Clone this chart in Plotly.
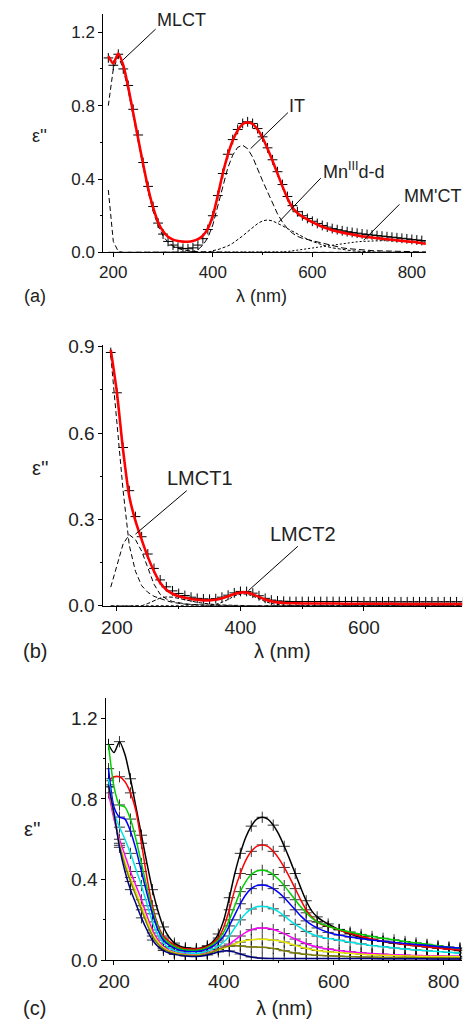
import plotly.graph_objects as go

# ---------------- data ----------------
W_A = list(range(190, 831, 10))   # wavelength grid, panels (a) and (c)
W_B = list(range(190, 761, 10))   # wavelength grid, panel (b)

# panel (a)
A_FIT = [1.07, 1.03, 1.084, 1.02, 0.90, 0.76, 0.62, 0.48, 0.35, 0.245,
         0.165, 0.115, 0.085, 0.07, 0.062, 0.059, 0.058, 0.062, 0.072, 0.092,
         0.13, 0.20, 0.31, 0.43, 0.53, 0.61, 0.665, 0.70, 0.709, 0.70,
         0.67, 0.625, 0.565, 0.50, 0.43, 0.36, 0.295, 0.245, 0.215, 0.195,
         0.18, 0.165, 0.152, 0.14, 0.13, 0.121, 0.114, 0.108, 0.103, 0.098,
         0.093, 0.088, 0.085, 0.081, 0.078, 0.075, 0.072, 0.069, 0.066, 0.063,
         0.06, 0.058, 0.055, 0.05, 0.047]
A_DATA = [1.06, 1.02, 1.08, 1.0, 0.91, 0.78, 0.64, 0.49, 0.36, 0.25,
          0.16, 0.10, 0.06, 0.04, 0.028, 0.022, 0.02, 0.025, 0.04, 0.075,
          0.125, 0.20, 0.31, 0.43, 0.535, 0.615, 0.67, 0.703, 0.712, 0.703,
          0.675, 0.63, 0.57, 0.505, 0.44, 0.37, 0.305, 0.255, 0.222, 0.20,
          0.185, 0.17, 0.158, 0.147, 0.138, 0.13, 0.124, 0.118, 0.113, 0.109,
          0.105, 0.101, 0.098, 0.095, 0.092, 0.089, 0.086, 0.083, 0.08, 0.077,
          0.074, 0.071, 0.068, 0.065, 0.062]
A_UV = [0.34, 0.06, 0.005, 0, 0, 0, 0, 0, 0, 0,
        0, 0, 0, 0, 0, 0, 0, 0, 0, 0,
        0, 0, 0, 0, 0, 0, 0, 0, 0, 0,
        0, 0, 0, 0, 0, 0, 0, 0, 0, 0,
        0, 0, 0, 0, 0, 0, 0, 0, 0, 0,
        0, 0, 0, 0, 0, 0, 0, 0, 0, 0,
        0, 0, 0, 0, 0]
A_MLCT = [0.80, 1.0, 1.07, 1.0, 0.88, 0.74, 0.60, 0.46, 0.33, 0.225,
          0.145, 0.09, 0.055, 0.035, 0.022, 0.014, 0.009, 0.006, 0.004, 0.003,
          0.002, 0.002, 0.001, 0.001, 0.001, 0.001, 0.001, 0.001, 0.001, 0.001,
          0.001, 0.001, 0, 0, 0, 0, 0, 0, 0, 0,
          0, 0, 0, 0, 0, 0, 0, 0, 0, 0,
          0, 0, 0, 0, 0, 0, 0, 0, 0, 0,
          0, 0, 0, 0, 0]
A_IT = [0, 0, 0, 0, 0, 0, 0, 0, 0, 0,
        0, 0, 0, 0, 0, 0, 0.002, 0.005, 0.015, 0.04,
        0.08, 0.15, 0.25, 0.36, 0.46, 0.53, 0.573, 0.584, 0.565, 0.52,
        0.45, 0.39, 0.33, 0.27, 0.21, 0.165, 0.13, 0.105, 0.088, 0.077,
        0.07, 0.065, 0.057, 0.05, 0.042, 0.035, 0.03, 0.025, 0.021, 0.018,
        0.015, 0.013, 0.011, 0.01, 0.009, 0.008, 0.007, 0.006, 0.006, 0.005,
        0.005, 0.004, 0.004, 0.003, 0.003]
A_DD = [0, 0, 0, 0, 0, 0, 0, 0, 0, 0,
        0, 0, 0, 0, 0, 0, 0, 0, 0, 0,
        0, 0.01, 0.015, 0.025, 0.035, 0.05, 0.068, 0.09, 0.113, 0.135,
        0.157, 0.172, 0.177, 0.172, 0.16, 0.145, 0.13, 0.115, 0.10, 0.085,
        0.072, 0.06, 0.05, 0.04, 0.032, 0.025, 0.02, 0.015, 0.012, 0.009,
        0.007, 0.005, 0.004, 0.003, 0.002, 0.002, 0.001, 0.001, 0.001, 0,
        0, 0, 0, 0, 0]
A_MMCT = [0, 0, 0, 0, 0, 0, 0, 0, 0, 0,
          0, 0, 0, 0, 0, 0, 0, 0, 0, 0,
          0, 0, 0, 0, 0, 0, 0, 0, 0, 0,
          0, 0, 0, 0, 0, 0.003, 0.005, 0.008, 0.011, 0.015,
          0.019, 0.024, 0.028, 0.032, 0.036, 0.04, 0.044, 0.048, 0.052, 0.055,
          0.058, 0.06, 0.062, 0.063, 0.064, 0.064, 0.064, 0.064, 0.063, 0.062,
          0.061, 0.06, 0.058, 0.057, 0.055]

# panel (b)
B_FIT = [0.889, 0.74, 0.54, 0.38, 0.295, 0.23, 0.17, 0.12, 0.08, 0.056,
         0.042, 0.033, 0.028, 0.024, 0.021, 0.019, 0.019, 0.021, 0.026, 0.033,
         0.041, 0.046, 0.046, 0.040, 0.031, 0.022, 0.016, 0.012, 0.010, 0.009,
         0.009, 0.008, 0.008, 0.008, 0.008, 0.008, 0.008, 0.008, 0.007, 0.007,
         0.007, 0.007, 0.007, 0.007, 0.007, 0.007, 0.007, 0.006, 0.006, 0.006,
         0.006, 0.006, 0.006, 0.006, 0.006, 0.006, 0.006, 0.006]
B_DATA = [0.88, 0.74, 0.55, 0.40, 0.31, 0.24, 0.18, 0.13, 0.09, 0.066,
          0.052, 0.043, 0.036, 0.03, 0.026, 0.024, 0.023, 0.025, 0.03, 0.037,
          0.045, 0.05, 0.05, 0.044, 0.035, 0.026, 0.02, 0.017, 0.016, 0.015,
          0.015, 0.015, 0.015, 0.015, 0.015, 0.015, 0.015, 0.015, 0.015, 0.015,
          0.015, 0.014, 0.014, 0.014, 0.014, 0.014, 0.014, 0.014, 0.014, 0.014,
          0.014, 0.014, 0.014, 0.014, 0.014, 0.014, 0.014, 0.014]
B_UV = [0.87, 0.63, 0.40, 0.21, 0.12, 0.07, 0.047, 0.033, 0.025, 0.018,
        0.012, 0.008, 0.006, 0.004, 0.003, 0.002, 0.002, 0.001, 0.001, 0.001,
        0, 0, 0, 0, 0, 0, 0, 0, 0, 0,
        0, 0, 0, 0, 0, 0, 0, 0, 0, 0,
        0, 0, 0, 0, 0, 0, 0, 0, 0, 0,
        0, 0, 0, 0, 0, 0, 0, 0]
B_LMCT1 = [0.065, 0.14, 0.215, 0.247, 0.23, 0.19, 0.13, 0.075, 0.04, 0.024,
           0.015, 0.01, 0.007, 0.005, 0.003, 0.002, 0.001, 0.001, 0, 0,
           0, 0, 0, 0, 0, 0, 0, 0, 0, 0,
           0, 0, 0, 0, 0, 0, 0, 0, 0, 0,
           0, 0, 0, 0, 0, 0, 0, 0, 0, 0,
           0, 0, 0, 0, 0, 0, 0, 0]
B_C3 = [0, 0, 0, 0, 0, 0, 0.008, 0.018, 0.027, 0.031,
        0.03, 0.026, 0.021, 0.016, 0.012, 0.009, 0.006, 0.004, 0.003, 0.002,
        0.001, 0.001, 0, 0, 0, 0, 0, 0, 0, 0,
        0, 0, 0, 0, 0, 0, 0, 0, 0, 0,
        0, 0, 0, 0, 0, 0, 0, 0, 0, 0,
        0, 0, 0, 0, 0, 0, 0, 0]
B_LMCT2 = [0, 0, 0, 0, 0, 0, 0, 0, 0, 0,
           0, 0, 0, 0, 0, 0, 0.002, 0.005, 0.012, 0.022,
           0.034, 0.041, 0.041, 0.034, 0.024, 0.015, 0.008, 0.004, 0.002, 0.001,
           0, 0, 0, 0, 0, 0, 0, 0, 0, 0,
           0, 0, 0, 0, 0, 0, 0, 0, 0, 0,
           0, 0, 0, 0, 0, 0, 0, 0]

# panel (c)
C_RED = [0.89, 0.91, 0.91, 0.885, 0.83, 0.74, 0.58, 0.41, 0.27, 0.175,
         0.12, 0.095, 0.075, 0.063, 0.057, 0.055, 0.055, 0.059, 0.068, 0.085,
         0.11, 0.165, 0.25, 0.35, 0.43, 0.495, 0.54, 0.565, 0.572, 0.565,
         0.54, 0.505, 0.46, 0.41, 0.355, 0.30, 0.25, 0.215, 0.19, 0.175,
         0.167, 0.16, 0.15, 0.141, 0.133, 0.125, 0.118, 0.111, 0.105, 0.099,
         0.094, 0.09, 0.086, 0.082, 0.078, 0.075, 0.072, 0.069, 0.066, 0.063,
         0.06, 0.057, 0.055, 0.053, 0.051]
C_GREEN = [1.07, 0.86, 0.77, 0.76, 0.70, 0.60, 0.48, 0.36, 0.25, 0.165,
           0.11, 0.085, 0.068, 0.057, 0.051, 0.049, 0.049, 0.053, 0.062, 0.078,
           0.10, 0.14, 0.20, 0.27, 0.34, 0.39, 0.425, 0.442, 0.446, 0.44,
           0.425, 0.40, 0.37, 0.335, 0.30, 0.265, 0.235, 0.21, 0.19, 0.178,
           0.168, 0.16, 0.153, 0.146, 0.14, 0.134, 0.128, 0.123, 0.118, 0.113,
           0.109, 0.105, 0.101, 0.097, 0.093, 0.089, 0.086, 0.083, 0.079, 0.076,
           0.072, 0.068, 0.065, 0.062, 0.06]
C_BLUE = [0.95, 0.76, 0.71, 0.70, 0.64, 0.55, 0.44, 0.33, 0.23, 0.15,
          0.10, 0.075, 0.06, 0.05, 0.045, 0.043, 0.043, 0.047, 0.056, 0.07,
          0.09, 0.12, 0.17, 0.225, 0.28, 0.325, 0.355, 0.37, 0.373, 0.368,
          0.355, 0.335, 0.31, 0.28, 0.25, 0.22, 0.195, 0.175, 0.16, 0.148,
          0.138, 0.13, 0.125, 0.12, 0.115, 0.111, 0.107, 0.104, 0.10, 0.097,
          0.094, 0.091, 0.088, 0.086, 0.083, 0.081, 0.078, 0.076, 0.074, 0.071,
          0.068, 0.066, 0.064, 0.062, 0.06]
C_CYAN = [0.90, 0.73, 0.66, 0.60, 0.53, 0.45, 0.37, 0.28, 0.19, 0.125,
          0.085, 0.06, 0.048, 0.04, 0.036, 0.034, 0.034, 0.037, 0.045, 0.056,
          0.07, 0.09, 0.12, 0.16, 0.20, 0.232, 0.254, 0.265, 0.267, 0.264,
          0.255, 0.24, 0.22, 0.198, 0.178, 0.16, 0.143, 0.13, 0.12, 0.113,
          0.108, 0.104, 0.099, 0.094, 0.089, 0.085, 0.081, 0.077, 0.073, 0.07,
          0.067, 0.064, 0.061, 0.058, 0.056, 0.053, 0.051, 0.049, 0.047, 0.045,
          0.043, 0.041, 0.039, 0.037, 0.036]
C_MAGENTA = [0.83, 0.70, 0.60, 0.52, 0.44, 0.37, 0.30, 0.22, 0.15, 0.10,
             0.068, 0.05, 0.04, 0.033, 0.029, 0.027, 0.027, 0.03, 0.036, 0.045,
             0.055, 0.065, 0.08, 0.10, 0.12, 0.138, 0.151, 0.158, 0.16, 0.158,
             0.152, 0.143, 0.132, 0.118, 0.105, 0.093, 0.082, 0.073, 0.066, 0.06,
             0.056, 0.052, 0.048, 0.045, 0.042, 0.039, 0.037, 0.035, 0.033, 0.031,
             0.03, 0.028, 0.027, 0.026, 0.025, 0.024, 0.023, 0.023, 0.022, 0.022,
             0.021, 0.021, 0.02, 0.02, 0.02]
C_YELLOW = [0.86, 0.72, 0.58, 0.49, 0.41, 0.34, 0.27, 0.20, 0.135, 0.09,
            0.062, 0.046, 0.037, 0.031, 0.027, 0.025, 0.025, 0.028, 0.034, 0.042,
            0.052, 0.06, 0.07, 0.08, 0.09, 0.098, 0.102, 0.104, 0.104, 0.103,
            0.10, 0.096, 0.09, 0.082, 0.074, 0.066, 0.059, 0.053, 0.048, 0.045,
            0.042, 0.04, 0.038, 0.036, 0.034, 0.032, 0.03, 0.028, 0.027, 0.026,
            0.025, 0.024, 0.023, 0.022, 0.021, 0.021, 0.02, 0.02, 0.019, 0.019,
            0.018, 0.018, 0.018, 0.017, 0.017]
C_OLIVE = [0.86, 0.72, 0.57, 0.47, 0.39, 0.32, 0.25, 0.18, 0.12, 0.08,
           0.056, 0.042, 0.034, 0.028, 0.025, 0.023, 0.023, 0.026, 0.032, 0.041,
           0.055, 0.065, 0.071, 0.073, 0.071, 0.068, 0.066, 0.065, 0.064, 0.062,
           0.058, 0.053, 0.047, 0.041, 0.036, 0.032, 0.029, 0.026, 0.024, 0.023,
           0.022, 0.021, 0.02, 0.019, 0.018, 0.017, 0.016, 0.016, 0.015, 0.015,
           0.014, 0.014, 0.014, 0.013, 0.013, 0.013, 0.013, 0.012, 0.012, 0.012,
           0.012, 0.012, 0.011, 0.011, 0.011]
C_NAVY = [0.87, 0.73, 0.56, 0.44, 0.35, 0.28, 0.21, 0.15, 0.10, 0.068,
          0.048, 0.036, 0.029, 0.024, 0.021, 0.019, 0.019, 0.021, 0.026, 0.033,
          0.041, 0.046, 0.046, 0.040, 0.031, 0.022, 0.016, 0.012, 0.010, 0.009,
          0.009, 0.008, 0.008, 0.008, 0.008, 0.008, 0.008, 0.008, 0.008, 0.008,
          0.008, 0.008, 0.008, 0.008, 0.008, 0.008, 0.008, 0.008, 0.008, 0.007,
          0.007, 0.007, 0.007, 0.007, 0.007, 0.007, 0.007, 0.007, 0.007, 0.006,
          0.006, 0.006, 0.006, 0.006, 0.006]

C_SERIES = [("black", A_FIT), ("red", C_RED), ("green", C_GREEN), ("blue", C_BLUE),
            ("cyan", C_CYAN), ("magenta", C_MAGENTA), ("yellow", C_YELLOW),
            ("olive", C_OLIVE), ("navy", C_NAVY)]
C_COLORS = {"black": "#000000", "red": "#ff0000", "green": "#00d000", "blue": "#0000ff",
            "cyan": "#00e5e5", "magenta": "#ff00ff", "yellow": "#e8e800",
            "olive": "#808000", "navy": "#000080"}

# ---------------- figure ----------------
FW, FH = 471, 1036
FONT = "Liberation Sans, Arial, sans-serif"
fig = go.Figure()


def comp(x, y, xa, ya, dash):
    fig.add_trace(go.Scatter(x=x, y=y, xaxis=xa, yaxis=ya, mode="lines",
                             line=dict(color="black", width=1, dash=dash),
                             hoverinfo="skip"))


def crosses(x, y, xa, ya, size, color="black"):
    fig.add_trace(go.Scatter(x=x, y=y, xaxis=xa, yaxis=ya, mode="markers",
                             marker=dict(symbol="cross-thin", size=size,
                                         line=dict(width=1, color=color)),
                             hoverinfo="skip"))


# panel (a)
comp(W_A, A_UV, "x", "y", "5px,3px")
comp(W_A, A_MLCT, "x", "y", "5px,3px")
comp(W_A, A_IT, "x", "y", "6px,3px")
comp(W_A, A_DD, "x", "y", "3px,2px")
comp(W_A, A_MMCT, "x", "y", "2px,2px")
crosses(W_A, A_DATA, "x", "y", 7)
fig.add_trace(go.Scatter(x=W_A, y=A_FIT, xaxis="x", yaxis="y", mode="lines",
                         line=dict(color="#ff0000", width=2.6, shape="spline", smoothing=0.7)))

# panel (b)
comp(W_B, B_UV, "x2", "y2", "5px,3px")
comp(W_B, B_LMCT1, "x2", "y2", "5px,3px")
comp(W_B, B_C3, "x2", "y2", "4px,2px")
comp(W_B, B_LMCT2, "x2", "y2", "3px,2px")
crosses(W_B, B_DATA, "x2", "y2", 7)
fig.add_trace(go.Scatter(x=W_B, y=B_FIT, xaxis="x2", yaxis="y2", mode="lines",
                         line=dict(color="#ff0000", width=2.6, shape="spline", smoothing=0.7)))

# panel (c)
for name, vals in C_SERIES:
    crosses(W_A[::2], vals[::2], "x3", "y3", 8, "rgba(0,0,0,0.8)")
for name, vals in C_SERIES:
    fig.add_trace(go.Scatter(x=W_A, y=vals, xaxis="x3", yaxis="y3", mode="lines",
                             line=dict(color=C_COLORS[name], width=1.5,
                                       shape="spline", smoothing=0.7),
                             hoverinfo="skip"))


def axstyle(size, **kw):
    d = dict(showline=True, linecolor="black", linewidth=1, ticks="outside",
             ticklen=4, tickwidth=1, tickcolor="black", showgrid=False,
             zeroline=False, tickfont=dict(family=FONT, size=size, color="#222"))
    d.update(kw)
    return d


def dom_x(p0, p1):
    return [p0 / FW, p1 / FW]


def dom_y(top, bottom):
    return [1 - bottom / FH, 1 - top / FH]


minor_x = dict(dtick=100, ticks="outside", ticklen=2, tickcolor="black", showgrid=False)

fig.update_layout(
    width=FW, height=FH, margin=dict(l=0, r=0, t=0, b=0),
    paper_bgcolor="white", plot_bgcolor="white", showlegend=False,
    xaxis=axstyle(17, domain=dom_x(97, 425), anchor="y", range=[180, 828],
                  tick0=0, dtick=200, minor=minor_x),
    yaxis=axstyle(17, domain=dom_y(6, 249), anchor="x", range=[0, 1.30],
                  tick0=0, dtick=0.4, tickformat=".1f",
                  minor=dict(dtick=0.2, ticks="outside", ticklen=2, tickcolor="black", showgrid=False)),
    xaxis2=axstyle(19, domain=dom_x(97, 462), anchor="y2", range=[178, 759],
                   tick0=0, dtick=200, minor=minor_x),
    yaxis2=axstyle(19, domain=dom_y(343, 609), anchor="x2", range=[0, 0.907],
                   tick0=0, dtick=0.3, tickformat=".1f",
                   minor=dict(dtick=0.15, ticks="outside", ticklen=2, tickcolor="black", showgrid=False)),
    xaxis3=axstyle(19, domain=dom_x(100, 462), anchor="y3", range=[186, 834],
                   tick0=0, dtick=200, minor=minor_x),
    yaxis3=axstyle(19, domain=dom_y(703, 970), anchor="x3", range=[0, 1.30],
                   tick0=0, dtick=0.4, tickformat=".1f",
                   minor=dict(dtick=0.2, ticks="outside", ticklen=2, tickcolor="black", showgrid=False)),
)


def label(text, px, py, size):
    fig.add_annotation(text=text, x=px / FW, y=1 - py / FH, xref="paper", yref="paper",
                       showarrow=False, xanchor="center", yanchor="middle",
                       font=dict(family=FONT, size=size, color="#222"))


def pointer(x0, y0, x1, y1, xr, yr):
    fig.add_shape(type="line", x0=x0, y0=y0, x1=x1, y1=y1, xref=xr, yref=yr,
                  line=dict(color="black", width=1))


# panel (a) labels
label("MLCT", 177, 12, 18)
label("IT", 294, 100, 18)
label("Mn<sup>III</sup>d-d", 352, 166, 18)
label("MM'CT", 432, 192, 18)
label("ε''", 32, 130, 18)
label("λ (nm)", 258, 293, 18)
label("(a)", 27, 293, 18)
pointer(219, 1.048, 285, 1.217, "x", "y")
pointer(476, 0.566, 551, 0.762, "x", "y")
pointer(532, 0.164, 617, 0.405, "x", "y")
pointer(703, 0.066, 775, 0.262, "x", "y")

# panel (b) labels
label("LMCT1", 195, 479, 20)
label("LMCT2", 300, 536, 20)
label("ε''", 33, 469, 20)
label("λ (nm)", 279, 655, 20)
label("(b)", 27, 655, 20)
pointer(230, 0.249, 313, 0.40, "x2", "y2")
pointer(413, 0.053, 493, 0.207, "x2", "y2")

# panel (c) labels
label("ε''", 25, 836, 20)
label("λ (nm)", 281, 1019, 20)
label("(c)", 27, 1019, 20)

fig.write_html("out.html")
